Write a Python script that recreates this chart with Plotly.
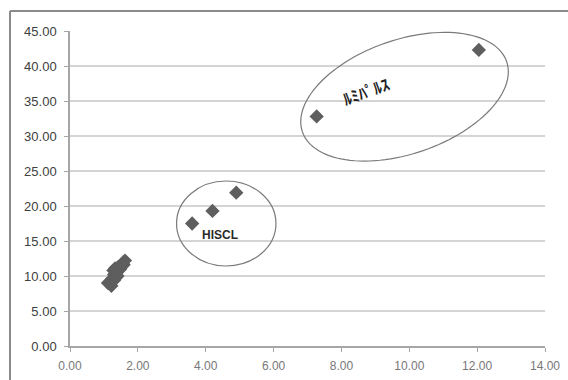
import numpy as np
import plotly.graph_objects as go

# ---- data ----
cluster_x = [1.12, 1.22, 1.20, 1.25, 1.30, 1.35, 1.30, 1.28, 1.38, 1.33, 1.42, 1.45, 1.48, 1.50, 1.40, 1.55, 1.58, 1.62]
cluster_y = [9.0, 8.6, 9.3, 9.6, 9.4, 9.8, 10.2, 10.8, 10.5, 11.1, 11.3, 10.9, 11.0, 11.5, 10.0, 11.8, 11.6, 12.2]
hiscl_x = [3.60, 4.20, 4.90]
hiscl_y = [17.5, 19.3, 21.9]
lumi_x = [7.27, 12.05]
lumi_y = [32.8, 42.3]

x_ticks = [0, 2, 4, 6, 8, 10, 12, 14]
y_ticks = [0, 5, 10, 15, 20, 25, 30, 35, 40, 45]

label_hiscl = "HISCL"
label_lumi = "ﾙﾐﾊﾟﾙｽ"

# ---- layout geometry ----
W, H = 568, 380
ML, MR, MT, MB = 70, 23, 31, 34
PW, PH = W - ML - MR, H - MT - MB
XR, YR = (0, 14), (0, 45)
pxx = PW / (XR[1] - XR[0])
pxy = PH / (YR[1] - YR[0])

all_x = cluster_x + hiscl_x + lumi_x
all_y = cluster_y + hiscl_y + lumi_y

fig = go.Figure()
fig.add_trace(go.Scatter(
    x=all_x, y=all_y, mode="markers",
    marker=dict(symbol="diamond", size=11, color="#5e5e5e"),
    showlegend=False, hoverinfo="skip"))

# ellipse around HISCL group
fig.add_shape(type="circle", xref="x", yref="y",
              x0=3.14, x1=6.07, y0=11.43, y1=23.57,
              line=dict(color="#7a7a7a", width=1.2))

# rotated ellipse around Lumipulse group (center in data, axes in px)
cx, cy = 9.86, 35.61
a_px, b_px, ang = 108, 57, np.deg2rad(19)
t = np.linspace(0, 2 * np.pi, 121)
ex = a_px * np.cos(t) * np.cos(ang) - b_px * np.sin(t) * np.sin(ang)
ey = a_px * np.cos(t) * np.sin(ang) + b_px * np.sin(t) * np.cos(ang)
dx = cx + ex / pxx
dy = cy + ey / pxy
path = "M " + " L ".join(f"{a:.4f},{b:.4f}" for a, b in zip(dx, dy)) + " Z"
fig.add_shape(type="path", xref="x", yref="y", path=path,
              line=dict(color="#7a7a7a", width=1.2))

fig.add_annotation(x=4.42, y=15.8, text=label_hiscl, showarrow=False,
                   font=dict(family="Liberation Sans Narrow, Liberation Sans, Arial", size=12,
                             color="#2a2a2a", weight="bold"))
fig.add_annotation(x=8.72, y=36.4, text=label_lumi, showarrow=False, textangle=-20,
                   font=dict(family="Noto Sans CJK JP", size=16, color="#222222", weight="bold"))

# outer border (left and top only visible)
bx = (10 - ML) / PW
by = 1 + (MT - 11) / PH
fig.add_shape(type="line", xref="paper", yref="paper", x0=bx, x1=bx, y0=by, y1=-0.3,
              line=dict(color="#8a8a8a", width=2))
fig.add_shape(type="line", xref="paper", yref="paper", x0=bx, x1=1.2, y0=by, y1=by,
              line=dict(color="#8a8a8a", width=2))

fig.update_xaxes(range=list(XR), tickvals=x_ticks,
                 ticktext=[f"{v:.2f}" for v in x_ticks],
                 showgrid=False, zeroline=False, showline=True,
                 linecolor="#a6a6a6", linewidth=1.5,
                 ticks="outside", ticklen=4, tickcolor="#a6a6a6",
                 ticklabelstandoff=4, automargin=False,
                 tickfont=dict(family="Liberation Sans Narrow, Liberation Sans, Arial", size=12, color="#777777"))
fig.update_yaxes(range=list(YR), tickvals=y_ticks,
                 ticktext=[f"{v:.2f}" for v in y_ticks],
                 showgrid=True, gridcolor="#d4d4d4", gridwidth=2,
                 zeroline=False, showline=True,
                 linecolor="#a6a6a6", linewidth=1.5,
                 ticks="outside", ticklen=4, tickcolor="#a6a6a6",
                 ticklabelstandoff=5, automargin=False,
                 tickfont=dict(family="Liberation Sans Narrow, Liberation Sans, Arial", size=13, color="#404040"))

fig.update_layout(width=W, height=H, margin=dict(l=ML, r=MR, t=MT, b=MB, autoexpand=False),
                  paper_bgcolor="white", plot_bgcolor="white")

fig.write_html("out.html")
